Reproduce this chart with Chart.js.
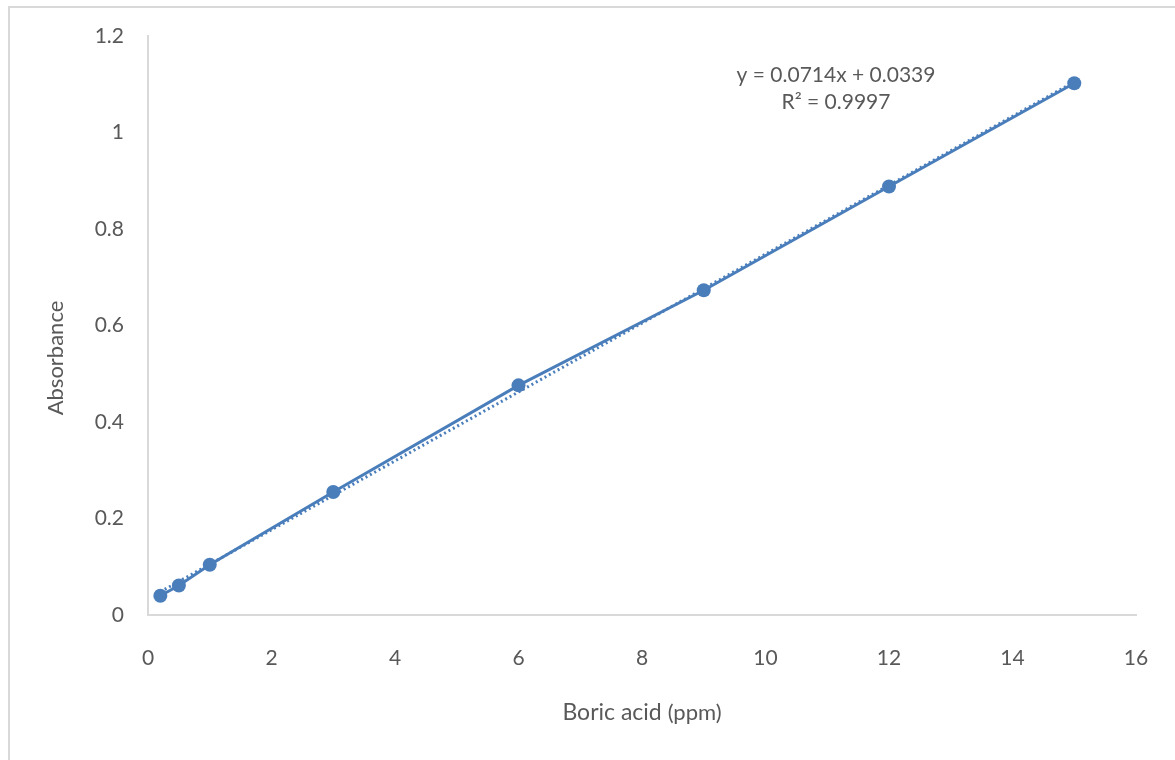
<!DOCTYPE html>
<html>
<head>
<meta charset="utf-8">
<script src="https://cdn.jsdelivr.net/npm/chart.js@4/dist/chart.umd.min.js"></script>
<style>
  html, body { margin: 0; padding: 0; background: #fff; }
  #wrap { width: 1175px; height: 760px; position: relative; }
</style>
</head>
<body>
<div id="wrap"><canvas id="chart" width="1175" height="760"></canvas></div>
<script>
// Data
const concentrations = [0.2, 0.5, 1, 3, 6, 9, 12, 15];
const absorbances = [0.04, 0.061, 0.104, 0.255, 0.476, 0.673, 0.888, 1.102];
// Linear trendline ends (y = 0.0714x + 0.0339 across the data range)
const trendX = [0.2, 15];
const trendY = [0.048, 1.105];
const xTicks = [0, 2, 4, 6, 8, 10, 12, 14, 16];
const yTicks = [0, 0.2, 0.4, 0.6, 0.8, 1, 1.2];
const equationLines = ['y = 0.0714x + 0.0339', 'R² = 0.9997'];

const blue = '#4a7ebb';
const textGray = '#595959';
const axisGray = '#d9d9d9';
const font = 'Lato';

// Border, trendline equation and axis titles
const extras = {
    id: 'extras',
    afterDraw(chart) {
        const c = chart.ctx;
        const area = chart.chartArea;
        c.save();
        c.strokeStyle = axisGray;
        c.lineWidth = 2;
        c.strokeRect(9, 7, 1175, 760);

        c.fillStyle = textGray;
        c.textAlign = 'center';
        c.textBaseline = 'middle';
        c.font = '21px ' + font;
        c.fillText(equationLines[0], 836, 75);
        c.fillText(equationLines[1], 836, 102);

        // y axis title
        c.save();
        c.translate(56, 358);
        c.rotate(-Math.PI / 2);
        c.font = '22px ' + font;
        c.fillText('Absorbance', 0, 0);
        c.restore();

        // "Boric acid (ppm)" with the unit in a smaller size
        const big = '23px ' + font, small = '22px ' + font;
        const part1 = 'Boric acid ', part2 = '(ppm)';
        c.font = big;
        const w1 = c.measureText(part1).width;
        c.font = small;
        const w2 = c.measureText(part2).width;
        const cx = (area.left + area.right) / 2;
        const x0 = cx - (w1 + w2) / 2;
        c.textAlign = 'left';
        c.textBaseline = 'alphabetic';
        c.font = big;
        c.fillText(part1, x0, 720);
        c.font = small;
        c.fillText(part2, x0 + w1, 720);
        c.restore();
    }
};

const ctx = document.getElementById('chart').getContext('2d');
new Chart(ctx, {
    type: 'scatter',
    data: {
        datasets: [{
            label: 'Trendline',
            data: trendX.map((x, i) => ({ x: x, y: trendY[i] })),
            showLine: true,
            borderColor: blue,
            borderWidth: 3,
            borderDash: [2, 3],
            pointRadius: 0,
            order: 2
        }, {
            label: 'Absorbance',
            data: concentrations.map((x, i) => ({ x: x, y: absorbances[i] })),
            showLine: true,
            borderColor: blue,
            backgroundColor: blue,
            borderWidth: 3,
            pointRadius: 7,
            pointBorderWidth: 0,
            order: 1
        }]
    },
    options: {
        responsive: false,
        animation: false,
        layout: { padding: { left: 0, right: 39, top: 36, bottom: 0 } },
        plugins: {
            legend: { display: false },
            tooltip: { enabled: false }
        },
        scales: {
            x: {
                type: 'linear',
                min: 0,
                max: 16,
                afterBuildTicks(s) { s.ticks = xTicks.map(v => ({ value: v })); },
                afterFit(s) { s.height = 145; s.paddingLeft = 0; s.paddingRight = 0; },
                grid: { display: false, drawTicks: false },
                border: { color: axisGray, width: 2 },
                ticks: { color: textGray, font: { family: font, size: 21 }, padding: 31 }
            },
            y: {
                type: 'linear',
                min: 0,
                max: 1.2,
                afterBuildTicks(s) { s.ticks = yTicks.map(v => ({ value: v })); },
                afterFit(s) { s.width = 148; s.paddingTop = 0; s.paddingBottom = 0; },
                grid: { display: false, drawTicks: false },
                border: { color: axisGray, width: 2 },
                ticks: {
                    color: textGray,
                    font: { family: font, size: 21 },
                    padding: 24,
                    callback: v => String(Math.round(v * 10) / 10)
                }
            }
        }
    },
    plugins: [extras]
});
</script>
</body>
</html>
